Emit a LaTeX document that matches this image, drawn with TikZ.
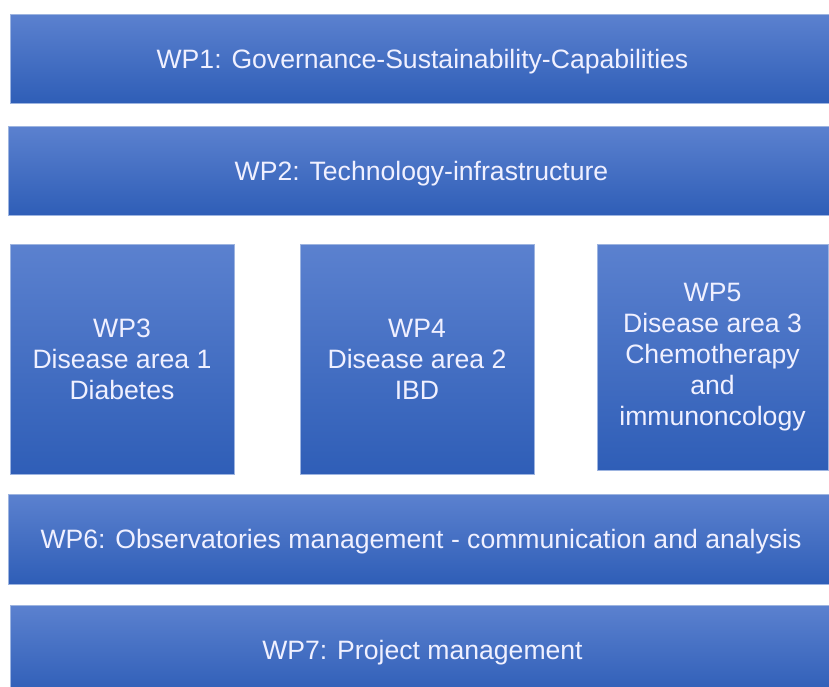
\documentclass[tikz,border=0pt]{standalone}
\usepackage{fontspec}
\setmainfont{Liberation Sans}
\usepackage{tikz}

\definecolor{wptop}{HTML}{5B81CF}
\definecolor{wpmid}{HTML}{4472C4}
\definecolor{wpbot}{HTML}{2F5EB7}
\definecolor{wpedge}{HTML}{9DB4E0}

\begin{document}
\begin{tikzpicture}[x=1pt, y=-1pt,
  wpbox/.style={draw=wpedge, line width=0.8pt, top color=wptop, middle color=wpmid, bottom color=wpbot,
    inner sep=0pt, align=center, text=white!94!blue, font=\fontsize{26.6}{31}\selectfont},
  wpbar/.style={wpbox, text height=25pt, text depth=5.6pt}]
\useasboundingbox (0,0) rectangle (829,686);
% horizontal work packages
\node[wpbar, minimum width=825, minimum height=89] (wp1) at (422.5,58.5) {WP1: Governance-Sustainability-Capabilities};
\node[wpbar, minimum width=827, minimum height=89] (wp2) at (421.5,170.5) {WP2: Technology-infrastructure};
% disease areas
\node[wpbox, minimum width=224, minimum height=230] (wp3) at (122,359) {WP3\\Disease area 1\\Diabetes};
\node[wpbox, minimum width=234, minimum height=230] (wp4) at (417,359) {WP4\\Disease area 2\\IBD};
\node[wpbox, minimum width=231, minimum height=226] (wp5) at (712.5,357) {WP5\\Disease area 3\\Chemotherapy\\and\\immunoncology};
% horizontal work packages
\node[wpbar, minimum width=826, minimum height=90] (wp6) at (421,539) {WP6: Observatories management - communication and analysis};
\node[wpbar, minimum width=825, minimum height=90] (wp7) at (422.5,650) {WP7: Project management};
\end{tikzpicture}
\end{document}
